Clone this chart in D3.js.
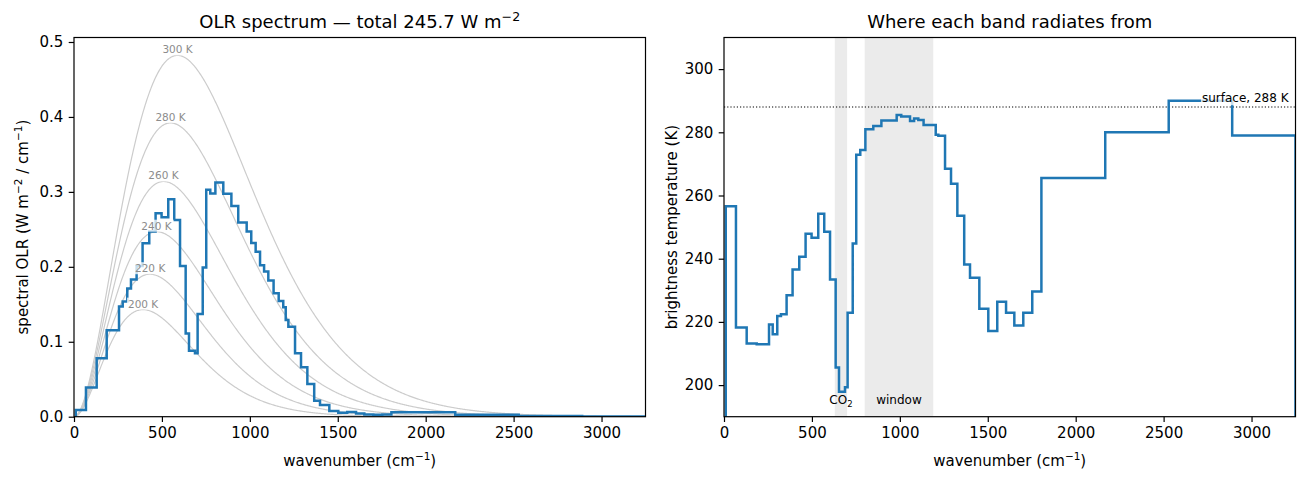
<!DOCTYPE html>
<html>
<head>
<meta charset="utf-8">
<script src="https://cdn.jsdelivr.net/npm/d3@7"></script>
<style>
  body { margin: 0; background: #fff; }
  svg { font-family: "DejaVu Sans", sans-serif; }
</style>
</head>
<body>
<script>
// band edges (cm^-1), shared by both panels
var edges = [10, 68, 129, 186, 256, 277, 303, 324, 356, 390, 428, 464, 498, 536, 570, 603,
  635, 654, 688, 703, 732, 752, 775, 804, 849, 895, 934, 982, 1008, 1033, 1058, 1081,
  1105, 1135, 1164, 1190, 1204, 1219, 1257, 1291, 1327, 1366, 1399, 1452, 1503, 1554,
  1604, 1651, 1702, 1753, 1805, 2168, 2529, 2890, 3250];

// spectral OLR per band (W m^-2 / cm^-1), left panel
var olr = [0.0090, 0.0388, 0.0780, 0.1152, 0.1470, 0.1536, 0.1710, 0.1830, 0.2010, 0.2315,
  0.2470, 0.2715, 0.2660, 0.2900, 0.2626, 0.2010, 0.1110, 0.0880, 0.0846, 0.1370, 0.1990,
  0.3027, 0.2980, 0.3124, 0.2975, 0.2810, 0.2590, 0.2470, 0.2318, 0.2200, 0.2020, 0.1936,
  0.1816, 0.1647, 0.1545, 0.1460, 0.1290, 0.1200, 0.0846, 0.0660, 0.0437, 0.0214, 0.0156,
  0.0076, 0.0052, 0.0063, 0.0044, 0.0029, 0.0027, 0.0030, 0.0058, 0.0027, 0.0010, 0.0002];

// brightness temperature per band (K), right panel
var brightT = [256.6, 218.2, 213.2, 212.9, 219.2, 216.1, 221.9, 222.4, 228.4, 236.6,
  240.6, 247.9, 246.6, 254.2, 248.5, 233.4, 205.6, 197.9, 199.3, 222.9, 244.8,
  272.9, 274.4, 281.0, 282.0, 283.7, 283.7, 285.5, 285.0, 285.0, 283.6, 284.4,
  283.9, 282.3, 282.3, 282.3, 279.2, 278.9, 268.5, 263.7, 253.6, 238.2, 234.0,
  224.2, 217.1, 226.4, 222.9, 218.9, 222.9, 229.6, 265.5, 280.0, 290.0, 279.0];

var planckTemps = [200, 220, 240, 260, 280, 300];
var surfaceT = 288;
var co2Band = [630, 700];
var windowBand = [800, 1190];
var xTicks = [0, 500, 1000, 1500, 2000, 2500, 3000];
var yTicksL = [0, 0.1, 0.2, 0.3, 0.4, 0.5];
var yTicksR = [200, 220, 240, 260, 280, 300];

var W = 1306, H = 481;
var plotTop = 37.5, plotBottom = 416.7;
var blue = "#1f77b4";

var svg = d3.select("body").append("svg")
  .attr("width", W).attr("height", H);

// pi * B(nu, T), nu in cm^-1 -> W m^-2 / cm^-1
function planckFlux(nu, T) {
  var c1 = 1.191042e-8, c2 = 1.438777;
  return Math.PI * c1 * nu * nu * nu / (Math.exp(c2 * nu / T) - 1);
}

var nuGrid = d3.range(1, 3251, 4);
var curves = planckTemps.map(function (T) {
  return { T: T, pts: nuGrid.map(function (n) { return { x: n, y: planckFlux(n, T) }; }) };
});

var xL = d3.scaleLinear().domain([0, 3250]).range([74, 645.5]);
var yL = d3.scaleLinear().domain([0, 0.506]).range([plotBottom, plotTop]);
var xR = d3.scaleLinear().domain([0, 3250]).range([724, 1295.5]);
var yR = d3.scaleLinear().domain([190, 310]).range([plotBottom, plotTop]);

function clip(id, x) {
  svg.append("clipPath").attr("id", id).append("rect")
    .attr("x", x.range()[0]).attr("y", plotTop)
    .attr("width", x.range()[1] - x.range()[0]).attr("height", plotBottom - plotTop);
}
clip("clipL", xL);
clip("clipR", xR);

// stairs outline, dropping to baseline at both ends
function stairPoints(vals, base) {
  var pts = [{ x: edges[0], y: base }];
  vals.forEach(function (v, i) { pts.push({ x: edges[i], y: v }); });
  pts.push({ x: edges[edges.length - 1], y: vals[vals.length - 1] });
  pts.push({ x: edges[edges.length - 1], y: base });
  return pts;
}

function labelBox(g, t, opacity) {
  var b = t.node().getBBox();
  g.insert("rect", function () { return t.node(); })
    .attr("x", b.x - 1).attr("y", b.y)
    .attr("width", b.width + 2).attr("height", b.height)
    .attr("fill", "#fff").attr("opacity", opacity);
}

// ---------- left panel ----------
var gL = svg.append("g");
var plotL = gL.append("g").attr("clip-path", "url(#clipL)");

var curveLine = d3.line()
  .x(function (d) { return xL(d.x); })
  .y(function (d) { return yL(d.y); });

plotL.selectAll(".planck")
  .data(curves)
  .enter().append("path")
  .attr("class", "planck")
  .attr("d", function (d) { return curveLine(d.pts); })
  .attr("fill", "none").attr("stroke", "#cccccc").attr("stroke-width", 1.2);

plotL.append("path")
  .attr("d", d3.line()
    .x(function (d) { return xL(d.x); })
    .y(function (d) { return yL(d.y); })
    .curve(d3.curveStepAfter)(stairPoints(olr, 0)))
  .attr("fill", "none").attr("stroke", blue).attr("stroke-width", 2.5);

curves.forEach(function (c) {
  var peak = c.pts.reduce(function (a, b) { return b.y > a.y ? b : a; });
  var lg = gL.append("g");
  var t = lg.append("text")
    .attr("x", xL(peak.x)).attr("y", yL(peak.y) - 2)
    .attr("text-anchor", "middle")
    .attr("font-size", 10.5).attr("fill", "#8c8c8c")
    .text(c.T + " K");
  labelBox(lg, t, 0.75);
});

// ---------- right panel ----------
var gR = svg.append("g");
var plotR = gR.append("g").attr("clip-path", "url(#clipR)");

[co2Band, windowBand].forEach(function (b) {
  plotR.append("rect")
    .attr("x", xR(b[0])).attr("y", plotTop)
    .attr("width", xR(b[1]) - xR(b[0])).attr("height", plotBottom - plotTop)
    .attr("fill", "#ebebeb");
});

plotR.append("line")
  .attr("x1", xR.range()[0]).attr("x2", xR.range()[1])
  .attr("y1", yR(surfaceT)).attr("y2", yR(surfaceT))
  .attr("stroke", "#000").attr("stroke-width", 1.2)
  .attr("stroke-dasharray", "1.2,2");

plotR.append("path")
  .attr("d", d3.line()
    .x(function (d) { return xR(d.x); })
    .y(function (d) { return yR(d.y); })
    .curve(d3.curveStepAfter)(stairPoints(brightT, 0)))
  .attr("fill", "none").attr("stroke", blue).attr("stroke-width", 2.5);

var co2Text = gR.append("text")
  .attr("x", xR((co2Band[0] + co2Band[1]) / 2)).attr("y", yR(194))
  .attr("text-anchor", "middle").attr("font-size", 12).attr("fill", "#000");
co2Text.append("tspan").text("CO");
co2Text.append("tspan").attr("font-size", 8.5).attr("dy", 2.5).text("2");

gR.append("text")
  .attr("x", xR((windowBand[0] + windowBand[1]) / 2)).attr("y", yR(194))
  .attr("text-anchor", "middle").attr("font-size", 12).attr("fill", "#000")
  .text("window");

var sg = gR.append("g");
var st = sg.append("text")
  .attr("x", xR(2718)).attr("y", yR(surfaceT) - 4.8)
  .attr("font-size", 12).attr("fill", "#000")
  .text("surface, " + surfaceT + " K");
labelBox(sg, st, 0.75);

// ---------- axes ----------
function drawAxes(x, y, yTicks, yFmt) {
  var ax = svg.append("g")
    .attr("transform", "translate(0," + plotBottom + ")")
    .call(d3.axisBottom(x).tickValues(xTicks).tickFormat(d3.format("d"))
      .tickSize(5.3).tickPadding(5.3));
  var ay = svg.append("g")
    .attr("transform", "translate(" + x.range()[0] + ",0)")
    .call(d3.axisLeft(y).tickValues(yTicks).tickFormat(yFmt)
      .tickSize(5.3).tickPadding(5.3));
  [ax, ay].forEach(function (a) {
    a.select(".domain").remove();
    a.selectAll("line").attr("stroke", "#000").attr("stroke-width", 1.2);
    a.selectAll("text").attr("font-size", 15).attr("fill", "#000")
      .attr("font-family", "DejaVu Sans, sans-serif");
  });
  svg.append("rect")
    .attr("x", x.range()[0]).attr("y", plotTop)
    .attr("width", x.range()[1] - x.range()[0]).attr("height", plotBottom - plotTop)
    .attr("fill", "none").attr("stroke", "#000").attr("stroke-width", 1.2);
}
drawAxes(xL, yL, yTicksL, d3.format(".1f"));
drawAxes(xR, yR, yTicksR, d3.format("d"));

// ---------- titles and labels ----------
// parts: plain strings or {sup: "..."}; shift is carried onto the next plain part
function supText(parent, parts, size) {
  var raise = 0.42 * size, pending = 0;
  parts.forEach(function (p) {
    if (typeof p === "string") {
      parent.append("tspan").attr("dy", pending).text(p);
      pending = 0;
    } else {
      parent.append("tspan").attr("dy", -raise).attr("font-size", size * 0.7).text(p.sup);
      pending = raise;
    }
  });
}

var midL = (xL.range()[0] + xL.range()[1]) / 2;
var midR = (xR.range()[0] + xR.range()[1]) / 2;

var t1 = svg.append("text").attr("x", midL).attr("y", 28.3)
  .attr("text-anchor", "middle").attr("font-size", 18);
supText(t1, ["OLR spectrum \u2014 total 245.7 W m", { sup: "\u22122" }], 18);

svg.append("text").attr("x", midR).attr("y", 28.3)
  .attr("text-anchor", "middle").attr("font-size", 18)
  .text("Where each band radiates from");

[midL, midR].forEach(function (m) {
  var xl = svg.append("text").attr("x", m).attr("y", 466)
    .attr("text-anchor", "middle").attr("font-size", 15);
  supText(xl, ["wavenumber (cm", { sup: "\u22121" }, ")"], 15);
});

var ylL = svg.append("text")
  .attr("transform", "translate(28," + (plotTop + plotBottom) / 2 + ") rotate(-90)")
  .attr("text-anchor", "middle").attr("font-size", 15);
supText(ylL, ["spectral OLR (W m", { sup: "\u22122" }, " / cm", { sup: "\u22121" }, ")"], 15);

svg.append("text")
  .attr("transform", "translate(677," + (plotTop + plotBottom) / 2 + ") rotate(-90)")
  .attr("text-anchor", "middle").attr("font-size", 15)
  .text("brightness temperature (K)");
</script>
</body>
</html>
